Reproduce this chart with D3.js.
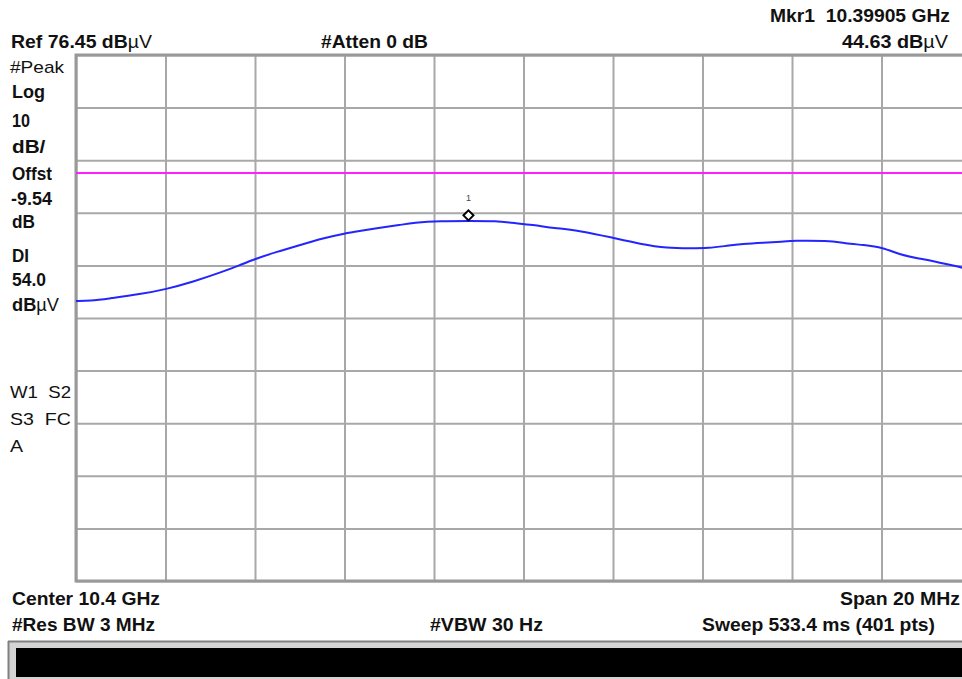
<!DOCTYPE html>
<html>
<head>
<meta charset="utf-8">
<script src="https://cdn.jsdelivr.net/npm/d3@7"></script>
<style>
  body { margin: 0; background: #fff; }
  svg { display: block; }
  text { font-family: "Liberation Sans", Arial, sans-serif; fill: #111; }
</style>
</head>
<body>
<div id="chart"></div>
<script>
// Trace data (frequency in MHz, level in dBµV)
const freqMHz = [10390.00, 10390.31, 10390.76, 10391.43, 10392.01, 10392.62, 10393.22, 10393.67,
  10393.98, 10394.49, 10395.01, 10395.52, 10396.02, 10396.35, 10396.80, 10397.24, 10397.54,
  10398.14, 10398.81, 10399.41, 10399.70, 10400.22, 10400.67, 10401.27, 10401.99, 10402.61,
  10403.22, 10403.73, 10404.13, 10404.56, 10404.89, 10405.36, 10405.79, 10406.01, 10406.79,
  10407.20, 10407.60, 10408.02, 10408.43, 10408.81, 10409.16, 10409.81];
const levelDb = [29.68, 29.68, 30.20, 30.96, 31.91, 33.35, 35.06, 36.53,
  37.61, 39.05, 40.33, 41.60, 42.55, 42.99, 43.62, 44.13, 44.57,
  44.89, 44.89, 44.89, 44.57, 44.13, 43.56, 43.05, 41.72, 40.52,
  39.70, 39.70, 39.70, 40.20, 40.52, 40.77, 40.96, 41.15, 41.15,
  40.65, 40.33, 39.89, 38.43, 37.80, 37.29, 36.01];

// Instrument settings
const refLevel = 76.45;
const dbPerDiv = 10;
const divisions = 10;
const centerMHz = 10400;
const spanMHz = 20;
const displayLine = 54.0;
const markerFreq = 10398.77;
const markerDb = 44.63;

// Annotation texts: [text, x, baseline, width, bold]
const headerLabels = [
  ["Ref 76.45 dB|µV", 11, 48, 141, true],
  ["#Atten 0 dB", 321, 48, 107, true],
  ["Mkr1  10.39905 GHz", 770, 22, 180, true],
  ["44.63 dB|µV", 842, 48, 106, true]
];
const sideLabels = [
  ["#Peak", 10, 73, 54, false],
  ["Log", 12, 98, 33, true],
  ["10", 12, 127, 18, true],
  ["dB/", 12, 153, 41, true],
  ["Offst", 12, 180, 40, true],
  ["-9.54", 11, 205, 41, true],
  ["dB", 12, 228, 23, true],
  ["DI", 12, 262, 17, true],
  ["54.0", 12, 286, 34, true],
  ["dB|µV", 12, 311, 47, true],
  ["W1  S2", 10, 398, 61, false],
  ["S3  FC", 10, 425, 61, false],
  ["A", 10, 452, 14, false]
];
const footerLabels = [
  ["Center 10.4 GHz", 12, 605, 148, true],
  ["Span 20 MHz", 840, 605, 120, true],
  ["#Res BW 3 MHz", 12, 631, 143, true],
  ["#VBW 30 Hz", 430, 631, 113, true],
  ["Sweep 533.4 ms (401 pts)", 702, 631, 233, true]
];

const W = 962, H = 679;
const plot = {left: 76, top: 55, width: 895, height: 526};

const svg = d3.select("#chart")
    .append("svg")
    .attr("width", W)
    .attr("height", H);

const x = d3.scaleLinear()
    .domain([centerMHz - spanMHz / 2, centerMHz + spanMHz / 2])
    .range([plot.left, plot.left + plot.width]);

const y = d3.scaleLinear()
    .domain([refLevel - dbPerDiv * divisions, refLevel])
    .range([plot.top + plot.height, plot.top]);

// Graticule
const xTicks = d3.range(0, divisions + 1).map(i => x.domain()[0] + i * spanMHz / divisions);
const yTicks = d3.range(0, divisions + 1).map(i => y.domain()[0] + i * dbPerDiv);

svg.append("g")
    .attr("transform", `translate(0,${plot.top + plot.height})`)
    .call(d3.axisBottom(x).tickValues(xTicks).tickSize(-plot.height).tickFormat(""))
    .call(g => g.select(".domain").remove())
    .call(g => g.selectAll("line").attr("stroke", "#a8a8a8").attr("stroke-width", 2));

svg.append("g")
    .attr("transform", `translate(${plot.left},0)`)
    .call(d3.axisLeft(y).tickValues(yTicks).tickSize(-plot.width).tickFormat(""))
    .call(g => g.select(".domain").remove())
    .call(g => g.selectAll("line").attr("stroke", "#a8a8a8").attr("stroke-width", 2));

// Heavier frame
svg.append("rect")
    .attr("x", plot.left)
    .attr("y", plot.top)
    .attr("width", plot.width)
    .attr("height", plot.height)
    .attr("fill", "none")
    .attr("stroke", "#999")
    .attr("stroke-width", 3);

// Display line
svg.append("line")
    .attr("x1", x.range()[0])
    .attr("x2", x.range()[1])
    .attr("y1", y(displayLine))
    .attr("y2", y(displayLine))
    .attr("stroke", "#ff20ff")
    .attr("stroke-width", 2);

// Trace
const line = d3.line()
    .x((d, i) => x(freqMHz[i]))
    .y(d => y(d))
    .curve(d3.curveBasis);

svg.append("path")
    .datum(levelDb)
    .attr("d", line)
    .attr("fill", "none")
    .attr("stroke", "#2424ff")
    .attr("stroke-width", 2);

// Marker 1 (drawn just above the trace point)
const mx = x(markerFreq), my = y(markerDb) - 7;
svg.append("path")
    .attr("d", `M${mx},${my - 5}L${mx + 5},${my}L${mx},${my + 5}L${mx - 5},${my}Z`)
    .attr("fill", "#fff")
    .attr("stroke", "#000")
    .attr("stroke-width", 2);
svg.append("text")
    .attr("x", mx)
    .attr("y", my - 14)
    .attr("text-anchor", "middle")
    .style("font-size", "9px")
    .style("fill", "#444")
    .text("1");

// Text labels; "|" splits a bold part from a regular part
function addLabel([str, lx, ly, w, bold]) {
    const parts = str.split("|");
    const t = svg.append("text")
        .attr("x", lx)
        .attr("y", ly)
        .style("font-size", bold ? "18px" : "17px")
        .style("font-weight", bold ? "bold" : "normal")
        .style("white-space", "pre");
    parts.forEach((p, i) => {
        t.append("tspan")
            .style("font-weight", i === 0 && bold ? "bold" : "normal")
            .text(p);
    });
    // stretch to the measured width, but never by more than 15%
    const natural = t.node().getComputedTextLength();
    t.attr("textLength", Math.min(w, natural * 1.15))
        .attr("lengthAdjust", "spacingAndGlyphs");
}
headerLabels.forEach(addLabel);
sideLabels.forEach(addLabel);
footerLabels.forEach(addLabel);

// Status bar at the bottom
svg.append("rect")
    .attr("x", 8).attr("y", 641)
    .attr("width", W - 8).attr("height", H - 641)
    .attr("fill", "#d4d4d4");
svg.append("line")
    .attr("x1", 8).attr("x2", W).attr("y1", 641.5).attr("y2", 641.5)
    .attr("stroke", "#808080").attr("stroke-width", 2);
svg.append("line")
    .attr("x1", 8.5).attr("x2", 8.5).attr("y1", 641).attr("y2", H)
    .attr("stroke", "#808080").attr("stroke-width", 2);
svg.append("rect")
    .attr("x", 16).attr("y", 648)
    .attr("width", W - 16).attr("height", 29)
    .attr("fill", "#000");
</script>
</body>
</html>
